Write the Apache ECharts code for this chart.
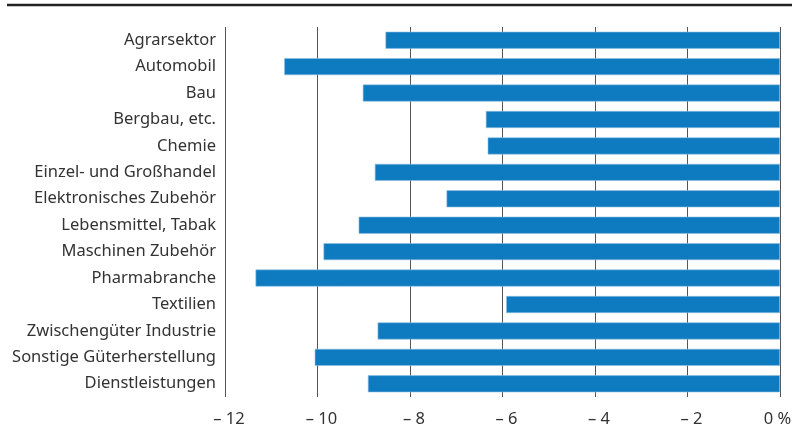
<!DOCTYPE html>
<html>
<head>
<meta charset="utf-8">
<script src="https://cdn.jsdelivr.net/npm/echarts@6/dist/echarts.min.js"></script>
<style>html,body{margin:0;padding:0;background:#fff}#c{width:792px;height:430px}</style>
</head>
<body>
<div id="c"></div>
<script>
const categories = ["Agrarsektor","Automobil","Bau","Bergbau, etc.","Chemie","Einzel- und Großhandel","Elektronisches Zubehör","Lebensmittel, Tabak","Maschinen Zubehör","Pharmabranche","Textilien","Zwischengüter Industrie","Sonstige Güterherstellung","Dienstleistungen"];
const values = [-8.53,-10.72,-9.02,-6.36,-6.32,-8.76,-7.21,-9.11,-9.87,-11.34,-5.92,-8.70,-10.06,-8.91];
const tickValues = [-12,-10,-8,-6,-4,-2,0];
const tickLabels = ["– 12","– 10","– 8","– 6","– 4","– 2","0 %"];

const chart = echarts.init(document.getElementById('c'), null, {renderer:'canvas'});
const font = '"Noto Sans", sans-serif';
chart.setOption({
  animation:false,
  grid:{left:225,right:12,top:27,bottom:33,containLabel:false,outerBoundsMode:'none'},
  graphic:[{type:'line',shape:{x1:7,y1:5,x2:792,y2:5},style:{stroke:'#222',lineWidth:2.5}}],
  xAxis:{type:'value',min:-12,max:0,interval:2,
    axisLine:{show:false},axisTick:{show:false},
    splitLine:{show:true,lineStyle:{color:'#555',width:1}},
    axisLabel:{margin:14,color:'#333',fontFamily:font,fontSize:16.5,
      formatter:v=>{const i=tickValues.indexOf(v);if(i<0)return '';return v===0?'{z|'+tickLabels[i]+'}':'{n|'+tickLabels[i]+'}';},
      rich:{
        n:{fontFamily:font,fontSize:16.5,color:'#333',padding:[0,0,0,8]},
        z:{fontFamily:font,fontSize:16.5,color:'#333',padding:[0,5,0,0]}
      }}},
  yAxis:{type:'category',data:categories,inverse:true,
    axisLine:{show:false},axisTick:{show:false},splitLine:{show:false},
    axisLabel:{margin:9,color:'#333',fontFamily:font,fontSize:16.5}},
  series:[{type:'bar',data:values,barWidth:17,
    itemStyle:{color:'#0e7abf',borderColor:'#8fbfe3',borderWidth:0.6}}]
});
</script>
</body>
</html>
